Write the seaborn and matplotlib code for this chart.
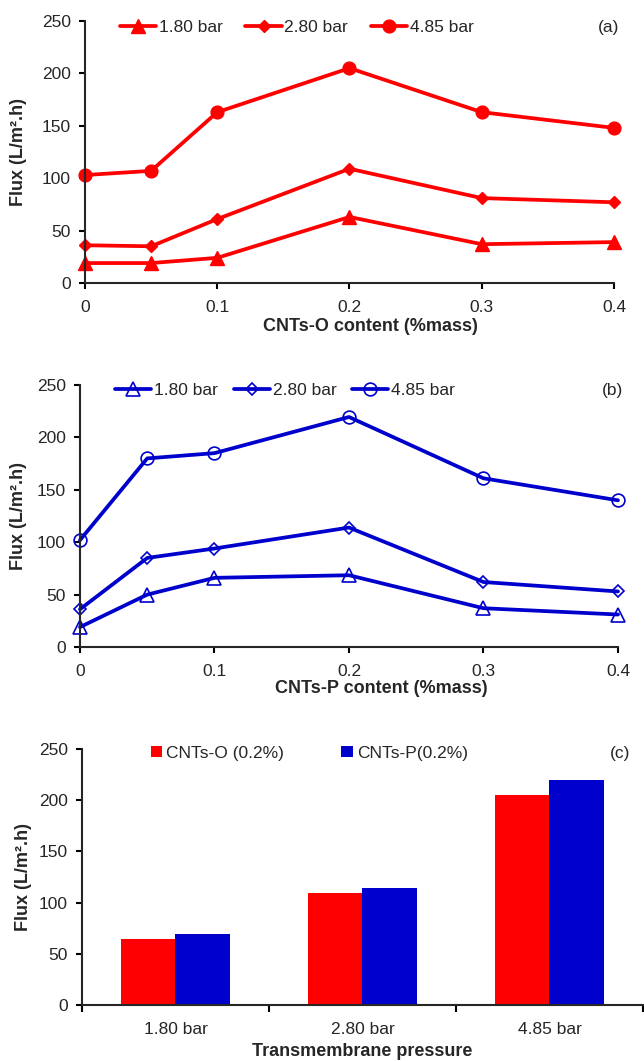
import matplotlib
matplotlib.use('Agg')
import matplotlib.pyplot as plt
from matplotlib.patches import Patch
import pandas as pd
import seaborn as sns

# CNT content (%mass) on the x axis of the two line panels
content = [0, 0.05, 0.1, 0.2, 0.3, 0.4]
content_ticks = [0, 0.1, 0.2, 0.3, 0.4]
content_tick_labels = ['0', '0.1', '0.2', '0.3', '0.4']

pressures = ['1.80 bar', '2.80 bar', '4.85 bar']

# (a) CNTs-O membranes
flux_o_180 = [19, 19, 24, 63, 37, 39]
flux_o_280 = [36, 35, 61, 109, 81, 77]
flux_o_485 = [103, 107, 163, 205, 163, 148]

# (b) CNTs-P membranes
flux_p_180 = [19, 50, 66, 68.5, 37, 31]
flux_p_280 = [36, 85, 94, 114, 62, 53]
flux_p_485 = [102, 180, 185, 219.5, 161, 140]

# (c) 0.2 % loading vs pressure
bar_samples = ['CNTs-O (0.2%)', 'CNTs-P(0.2%)']
bar_o = [64, 109, 205]
bar_p = [69, 114, 219.5]

RED = '#FF0000'
BLUE = '#0000CC'
TICK_FS = 12.5
LABEL_FS = 13
YLABEL = 'Flux (L/m\u00b2.h)'

sns.set_style('ticks')
plt.rcParams['font.family'] = ['Liberation Sans', 'DejaVu Sans']
plt.rcParams['axes.linewidth'] = 1.5


def style_axes(ax):
  sns.despine(ax=ax)
  ax.tick_params(axis='both', which='both', labelsize=TICK_FS, width=1.5,
                 length=4, direction='out', color='black')
  ax.tick_params(axis='x', pad=8.5)
  ax.tick_params(axis='y', pad=6)
  ax.set_ylim(0, 250)
  ax.set_yticks([0, 50, 100, 150, 200, 250])


def line_panel(ax, series, markers, filled, color, xlabel, tag, leg_x, leg_y,
               xlab_pos, ylab_x, colspacing):
  for (vals, label), marker in zip(series, markers):
    mfc = color if filled else 'none'
    size = {'^': 9.5, 'D': 6.5, 'o': 9.2}[marker]
    sns.lineplot(x=content, y=vals, ax=ax, color=color, linewidth=2.7,
                 marker=marker, markersize=size, markerfacecolor=mfc,
                 markeredgecolor=color, markeredgewidth=1.0 if filled else 1.2,
                 clip_on=False, label=label)
  style_axes(ax)
  ax.set_xlim(0, 0.4)
  ax.set_xticks(content_ticks)
  ax.set_xticklabels(content_tick_labels)
  ax.set_xlabel(xlabel, fontsize=LABEL_FS, fontweight='bold')
  ax.set_ylabel(YLABEL, fontsize=LABEL_FS, fontweight='bold')
  ax.xaxis.set_label_coords(*xlab_pos)
  ax.yaxis.set_label_coords(ylab_x, 0.5)
  ax.legend(loc='center left', bbox_to_anchor=(leg_x, leg_y), ncol=3,
            frameon=False, fontsize=TICK_FS, borderpad=0, borderaxespad=0,
            handlelength=2.1, handletextpad=0.15, columnspacing=colspacing)
  ax.text(0.989, leg_y, tag, transform=ax.transAxes, ha='center',
          va='center', fontsize=TICK_FS)


fig = plt.figure(figsize=(6.44, 10.61), dpi=100)
ax_a = fig.add_axes([0.132, 0.7333, 0.8214, 0.2469])
ax_b = fig.add_axes([0.1242, 0.3902, 0.8354, 0.2469])
ax_c = fig.add_axes([0.1273, 0.0528, 0.8711, 0.2413])

line_panel(ax_a,
           [(flux_o_180, pressures[0]), (flux_o_280, pressures[1]),
            (flux_o_485, pressures[2])],
           ['^', 'D', 'o'], True, RED, 'CNTs-O content (%mass)', '(a)',
           0.066, 0.977, (0.54, -0.134), -0.110, 1.3)
line_panel(ax_b,
           [(flux_p_180, pressures[0]), (flux_p_280, pressures[1]),
            (flux_p_485, pressures[2])],
           ['^', 'D', 'o'], False, BLUE, 'CNTs-P content (%mass)', '(b)',
           0.065, 0.981, (0.56, -0.126), -0.0985, 0.9)

# (c) grouped bars
bars = pd.DataFrame({
  'pressure': pressures * 2,
  'flux': bar_o + bar_p,
  'sample': [bar_samples[0]] * 3 + [bar_samples[1]] * 3,
})
sns.barplot(data=bars, x='pressure', y='flux', hue='sample', ax=ax_c,
            palette=[RED, BLUE], width=0.58, saturation=1, linewidth=0,
            legend=False)
style_axes(ax_c)
ax_c.set_xlim(-0.5, 2.5)
ax_c.set_xticks([-0.5, 0.5, 1.5, 2.5], minor=True)
ax_c.tick_params(axis='x', which='major', length=0, pad=12)
ax_c.tick_params(axis='x', which='minor', length=5)
ax_c.set_xlabel('Transmembrane pressure', fontsize=LABEL_FS, fontweight='bold')
ax_c.set_ylabel(YLABEL, fontsize=LABEL_FS, fontweight='bold')
ax_c.xaxis.set_label_coords(0.50, -0.148)
ax_c.yaxis.set_label_coords(-0.089, 0.5)
handles = [Patch(facecolor=RED, edgecolor='none', label=bar_samples[0]),
           Patch(facecolor=BLUE, edgecolor='none', label=bar_samples[1])]
ax_c.legend(handles=handles, loc='center left', bbox_to_anchor=(0.123, 0.984),
            ncol=2, frameon=False, fontsize=TICK_FS, borderpad=0,
            borderaxespad=0, handlelength=0.65, handleheight=0.65,
            handletextpad=0.23, columnspacing=3.3)
ax_c.text(0.959, 0.984, '(c)', transform=ax_c.transAxes, ha='center',
          va='center', fontsize=TICK_FS)

fig.savefig('out.png', dpi=100)
